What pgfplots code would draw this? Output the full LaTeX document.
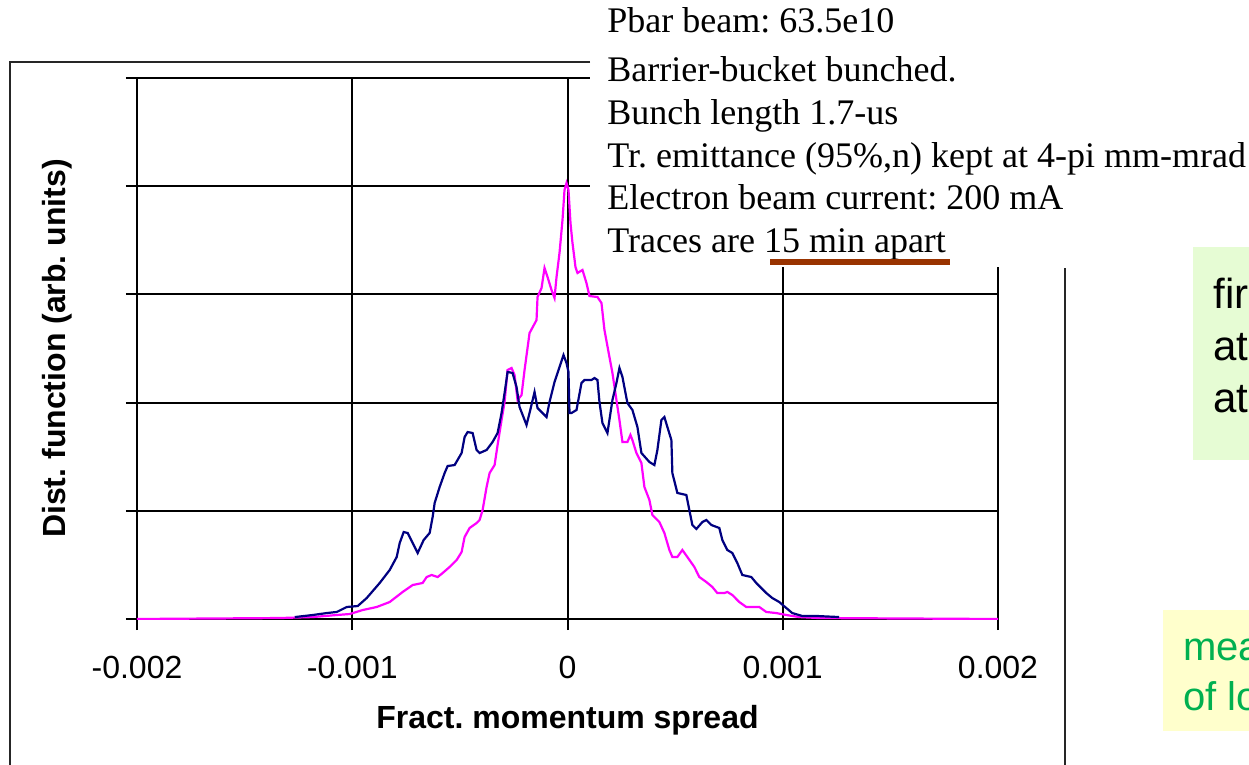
\documentclass[border=0pt]{standalone}
\usepackage{fontspec}
\setmainfont{Liberation Sans}
\newfontfamily\seriffont{Liberation Serif}
\usepackage{pgfplots}
\pgfplotsset{compat=1.18}
\frenchspacing
\definecolor{navyline}{RGB}{0,0,128}
\definecolor{magline}{RGB}{255,0,255}
\definecolor{brownline}{RGB}{153,51,0}
\definecolor{greenbg}{RGB}{230,252,212}
\definecolor{yellowbg}{RGB}{255,255,204}
\definecolor{greentext}{RGB}{0,176,80}

\pgfplotstableread{
x y
-1.2668e-3 0.018
-1.1833e-3 0.037
-1.1183e-3 0.055
-1.0719e-3 0.065
-1.0255e-3 0.111
-0.9745e-3 0.120
-0.9327e-3 0.194
-0.8724e-3 0.333
-0.8260e-3 0.453
-0.7935e-3 0.573
-0.7796e-3 0.702
-0.7610e-3 0.804
-0.7425e-3 0.795
-0.7193e-3 0.702
-0.6961e-3 0.610
-0.6682e-3 0.730
-0.6404e-3 0.795
-0.6265e-3 0.943
-0.6172e-3 1.072
-0.5940e-3 1.220
-0.5708e-3 1.349
-0.5568e-3 1.414
-0.5244e-3 1.423
-0.4919e-3 1.534
-0.4780e-3 1.682
-0.4640e-3 1.728
-0.4408e-3 1.719
-0.4223e-3 1.562
-0.4084e-3 1.534
-0.3759e-3 1.562
-0.3480e-3 1.636
-0.3248e-3 1.719
-0.3063e-3 1.904
-0.2923e-3 2.089
-0.2784e-3 2.283
-0.2552e-3 2.274
-0.2367e-3 2.144
-0.2227e-3 1.959
-0.1903e-3 1.793
-0.1763e-3 1.904
-0.1531e-3 2.098
-0.1392e-3 1.950
-0.0974e-3 1.867
-0.0835e-3 2.006
-0.0603e-3 2.190
-0.0371e-3 2.329
-0.0186e-3 2.440
-0.0046e-3 2.366
0.0046e-3 2.283
0.0093e-3 1.904
0.0186e-3 1.904
0.0418e-3 1.932
0.0650e-3 2.181
0.0789e-3 2.209
0.1114e-3 2.209
0.1253e-3 2.227
0.1392e-3 2.209
0.1485e-3 2.006
0.1624e-3 1.811
0.1856e-3 1.719
0.2088e-3 2.024
0.2274e-3 2.181
0.2413e-3 2.320
0.2552e-3 2.237
0.2784e-3 1.996
0.3016e-3 1.932
0.3248e-3 1.775
0.3434e-3 1.534
0.3805e-3 1.451
0.4037e-3 1.423
0.4176e-3 1.562
0.4362e-3 1.839
0.4501e-3 1.867
0.4640e-3 1.775
0.4826e-3 1.654
0.4872e-3 1.349
0.5104e-3 1.165
0.5522e-3 1.146
0.5661e-3 1.007
0.5800e-3 0.869
0.5986e-3 0.832
0.6265e-3 0.896
0.6450e-3 0.915
0.6682e-3 0.869
0.7053e-3 0.841
0.7193e-3 0.730
0.7425e-3 0.638
0.7657e-3 0.610
0.7889e-3 0.518
0.8121e-3 0.407
0.8538e-3 0.388
0.8770e-3 0.333
0.9234e-3 0.240
0.9513e-3 0.194
0.9838e-3 0.157
1.0162e-3 0.102
1.0441e-3 0.055
1.0905e-3 0.028
1.1555e-3 0.028
1.2622e-3 0.018
}\bluedata

\pgfplotstableread{
x y
-2.0000e-3 0.000
-1.3364e-3 0.009
-1.1833e-3 0.018
-1.0719e-3 0.037
-1.0116e-3 0.046
-0.9513e-3 0.083
-0.8863e-3 0.111
-0.8260e-3 0.157
-0.7657e-3 0.250
-0.7193e-3 0.314
-0.6729e-3 0.333
-0.6543e-3 0.388
-0.6311e-3 0.407
-0.6032e-3 0.388
-0.5800e-3 0.425
-0.5476e-3 0.481
-0.5151e-3 0.545
-0.4919e-3 0.619
-0.4780e-3 0.758
-0.4548e-3 0.841
-0.4223e-3 0.887
-0.4084e-3 0.915
-0.3944e-3 1.007
-0.3759e-3 1.220
-0.3619e-3 1.349
-0.3387e-3 1.423
-0.3248e-3 1.608
-0.3063e-3 1.839
-0.2923e-3 2.006
-0.2784e-3 2.301
-0.2599e-3 2.320
-0.2459e-3 2.255
-0.2320e-3 2.024
-0.2135e-3 2.070
-0.1995e-3 2.301
-0.1763e-3 2.643
-0.1439e-3 2.763
-0.1392e-3 2.976
-0.1206e-3 3.059
-0.1067e-3 3.244
-0.0928e-3 3.161
-0.0742e-3 3.041
-0.0603e-3 2.967
-0.0510e-3 3.161
-0.0371e-3 3.383
-0.0232e-3 3.688
-0.0139e-3 3.965
-0.0046e-3 4.030
0.0046e-3 3.965
0.0139e-3 3.660
0.0232e-3 3.475
0.0371e-3 3.253
0.0464e-3 3.198
0.0696e-3 3.226
0.0882e-3 3.105
0.1021e-3 2.985
0.1392e-3 2.976
0.1578e-3 2.921
0.1717e-3 2.671
0.1949e-3 2.421
0.2088e-3 2.274
0.2274e-3 2.024
0.2413e-3 1.839
0.2552e-3 1.636
0.2784e-3 1.636
0.2923e-3 1.701
0.3016e-3 1.654
0.3202e-3 1.534
0.3434e-3 1.442
0.3573e-3 1.220
0.3805e-3 1.100
0.3944e-3 0.961
0.4269e-3 0.896
0.4501e-3 0.795
0.4733e-3 0.638
0.4872e-3 0.573
0.5104e-3 0.573
0.5336e-3 0.638
0.5568e-3 0.573
0.5893e-3 0.481
0.6125e-3 0.388
0.6450e-3 0.342
0.6729e-3 0.296
0.6961e-3 0.240
0.7285e-3 0.240
0.7425e-3 0.250
0.7657e-3 0.222
0.7981e-3 0.157
0.8306e-3 0.111
0.8910e-3 0.111
0.9234e-3 0.065
0.9698e-3 0.055
1.0162e-3 0.037
1.0766e-3 0.018
1.1694e-3 0.009
2.0000e-3 0.000
}\magdata

\begin{document}
\begin{tikzpicture}
\path[use as bounding box] (0,0) rectangle (624.5pt,-382.5pt);
\begin{scope}
\clip (0,0) rectangle (624.5pt,-382.5pt);
\begin{axis}[
  at={(68.5pt,-309.5pt)}, anchor=south west,
  width=430.5pt, height=270.5pt, scale only axis,
  xmin=-0.002, xmax=0.002, ymin=0, ymax=5,
  xtick={-0.002,-0.001,0,0.001,0.002},
  xticklabels={-0.002,-0.001,0,0.001,0.002},
  scaled x ticks=false,
  ytick={0,1,2,3,4,5}, yticklabels={},
  grid=major, grid style={black, line width=1pt}, major grid style={black, line width=1pt},
  axis line style={black, line width=1pt},
  tick style={black, line width=1pt},
  tick align=outside, xtick pos=bottom, ytick pos=left,
  major tick length=5.5pt,
  xticklabel style={font=\fontsize{16}{19}\selectfont, anchor=base, yshift=-24pt},
  xlabel={Fract. momentum spread},
  ylabel={Dist. function (arb. units)},
  xlabel style={font=\bfseries\fontsize{16}{19}\selectfont, at={(axis description cs:0.5,-0.2015)}, anchor=base},
  ylabel style={font=\bfseries\fontsize{16}{19}\selectfont, at={(axis description cs:-0.0825,0.5)}, anchor=base},
]
\addplot[magline, line width=1.1pt] table[x=x,y=y] {\magdata};
\addplot[navyline, line width=1.1pt] table[x=x,y=y] {\bluedata};
\end{axis}
\end{scope}
\begin{scope}[x=0.5pt,y=-0.5pt]
\clip (0,0) rectangle (1249,765);
\fill[white] (590,-5) rectangle (1260,267);
\draw[black!85, line width=1pt] (590,62) -- (10,62) -- (10,775);
\draw[black!85, line width=1pt] (1065,268) -- (1065,775);
\begin{scope}[every node/.style={anchor=base west, inner sep=0pt, font=\seriffont\fontsize{18}{21}\selectfont}]
\node at (607,33) {Pbar beam: 63.5e10};
\node at (607,82) {Barrier-bucket bunched.};
\node at (607,125) {Bunch length 1.7-us};
\node at (607,168) {Tr. emittance (95\%,n) kept at 4-pi mm-mrad};
\node at (607,210) {Electron beam current: 200 mA};
\node at (607,252) {Traces are 15 min apart};
\end{scope}
\fill[brownline] (770,259) rectangle (950,265);
\fill[greenbg] (1193,247) rectangle (1260,460);
\begin{scope}[every node/.style={anchor=base west, inner sep=0pt, font=\fontsize{21}{25}\selectfont}]
\node at (1213,308) {fir};
\node at (1213,360) {at};
\node at (1213,412) {at};
\end{scope}
\fill[yellowbg] (1163,610) rectangle (1260,731);
\begin{scope}[every node/.style={anchor=base west, inner sep=0pt, text=greentext, font=\fontsize{20}{24}\selectfont}]
\node at (1183,660) {mea};
\node at (1183,710) {of lo};
\end{scope}
\end{scope}
\end{tikzpicture}
\end{document}
